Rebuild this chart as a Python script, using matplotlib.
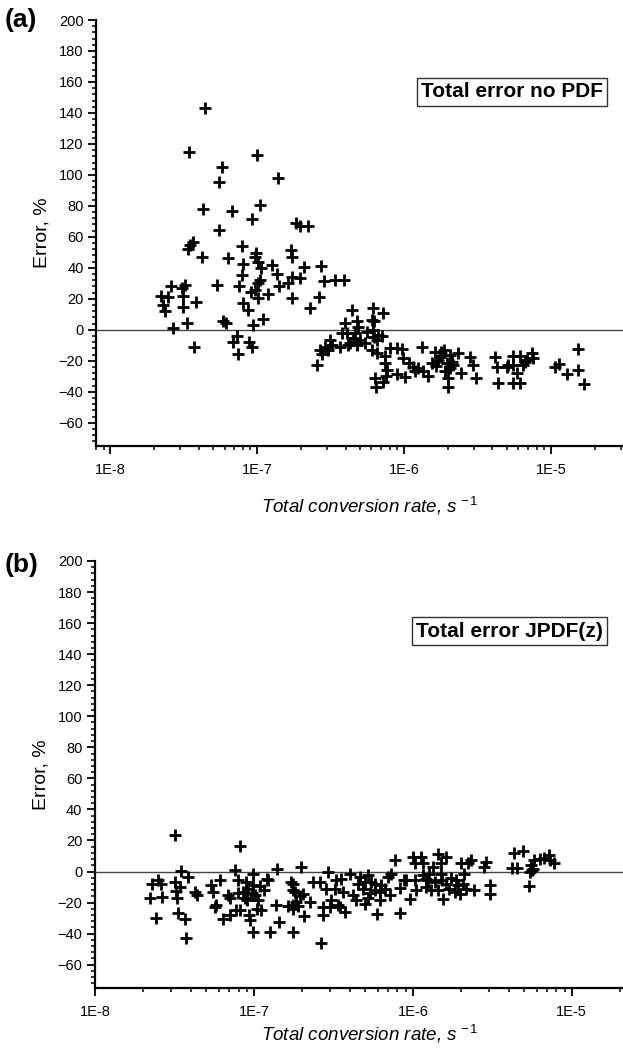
import matplotlib.pyplot as plt
from matplotlib.ticker import FixedLocator, LogLocator, MultipleLocator, NullFormatter

plt.rcParams["font.family"] = ["Liberation Sans", "DejaVu Sans"]
plt.rcParams["mathtext.fontset"] = "custom"
plt.rcParams["mathtext.rm"] = "Liberation Sans"
plt.rcParams["mathtext.it"] = "Liberation Sans:italic"

# (a) total error, no PDF
rate_a = [4.43e-8, 3.43e-8, 1.00e-7, 5.75e-8, 5.49e-8, 1.38e-7, 4.27e-8, 6.79e-8, 1.04e-7, 9.25e-8,
          5.49e-8, 1.83e-7, 1.96e-7, 2.23e-7, 3.65e-8, 3.50e-8, 3.36e-8, 4.20e-8, 6.38e-8, 7.91e-8,
          9.89e-8, 9.69e-8, 1.01e-7, 8.07e-8, 1.26e-7, 1.06e-7, 1.70e-7, 1.72e-7, 1.36e-7, 7.87e-8,
          1.04e-7, 1.01e-7, 1.40e-7, 1.19e-7, 1.63e-7, 1.72e-7, 1.74e-7, 5.32e-8, 7.55e-8, 9.06e-8,
          1.02e-7, 9.69e-8, 8.03e-8, 8.73e-8, 1.09e-7, 9.39e-8, 5.87e-8, 6.12e-8, 3.24e-8, 3.10e-8,
          2.60e-8, 2.22e-8, 2.47e-8, 2.30e-8, 2.37e-8, 3.15e-8, 3.15e-8, 3.83e-8, 3.32e-8, 2.67e-8,
          7.28e-8, 6.90e-8, 8.83e-8, 3.69e-8, 2.07e-7, 2.71e-7, 1.96e-7, 2.87e-7, 3.39e-7, 3.91e-7,
          2.64e-7, 2.29e-7, 9.20e-8, 4.41e-7, 6.12e-7, 7.16e-7, 3.97e-7, 4.77e-7, 6.25e-7, 4.07e-7,
          3.77e-7, 4.89e-7, 6.18e-7, 6.68e-7, 5.57e-7, 3.14e-7, 2.90e-7, 3.05e-7, 2.68e-7, 2.55e-7,
          2.75e-7, 3.22e-7, 3.67e-7, 4.18e-7, 4.77e-7, 5.43e-7, 4.52e-7, 6.25e-7, 7.05e-7, 6.03e-7,
          6.52e-7, 7.43e-7, 7.43e-7, 7.63e-7, 7.55e-7, 6.35e-7, 7.23e-7, 6.45e-7, 8.03e-7, 8.92e-7,
          9.65e-7, 1.32e-6, 9.89e-7, 1.09e-6, 1.16e-6, 1.25e-6, 1.35e-6, 1.19e-6, 8.92e-7, 1.02e-6,
          1.46e-6, 1.54e-6, 1.63e-6, 1.80e-6, 1.71e-6, 1.95e-6, 2.06e-6, 2.06e-6, 1.90e-6, 2.00e-6,
          2.00e-6, 2.34e-6, 2.43e-6, 2.81e-6, 2.96e-6, 3.09e-6, 2.16e-6, 4.16e-6, 4.27e-6, 4.38e-6,
          5.00e-6, 5.54e-6, 5.54e-6, 5.85e-6, 5.54e-6, 6.15e-6, 6.42e-6, 6.90e-6, 7.39e-6, 7.58e-6,
          5.13e-6, 1.06e-5, 1.14e-5, 1.28e-5, 1.53e-5, 1.53e-5, 1.69e-5, 1.76e-6, 1.87e-6, 2.12e-6,
          1.65e-6, 6.15e-6, 6.65e-6, 7.42e-8, 4.64e-7, 5.02e-7, 6.52e-7, 6.03e-7, 4.29e-7]
err_a = [143.1, 115.1, 112.8, 105.0, 95.7, 97.7, 78.3, 77.0, 80.5, 71.3,
         64.6, 68.7, 67.1, 67.1, 57.0, 54.9, 52.1, 46.7, 46.3, 54.4,
         49.9, 47.3, 43.9, 42.6, 42.0, 40.2, 51.6, 47.3, 36.2, 35.1,
         32.3, 30.1, 28.0, 23.2, 30.1, 34.4, 20.5, 29.2, 28.0, 24.7,
         20.5, 25.8, 17.2, 12.5, 6.9, 2.8, 6.0, 4.3, 29.1, 26.9,
         28.0, 22.1, 21.5, 16.1, 12.3, 22.1, 15.0, 18.1, 4.3, 1.1,
         -4.3, -7.6, -7.6, -10.8, 40.5, 40.9, 33.4, 31.8, 32.3, 32.3,
         20.9, 14.0, -10.8, 12.5, 13.8, 10.8, 4.7, 5.4, 5.4, -2.1,
         -2.1, 2.1, 0.0, -3.2, -1.1, -6.5, -10.8, -12.9, -12.9, -22.6,
         -15.5, -9.7, -10.8, -9.7, -9.7, -8.6, -5.4, -4.7, -3.9, -12.9,
         -15.0, -17.2, -21.5, -25.8, -29.7, -31.2, -33.4, -37.0, -11.8, -11.8,
         -12.5, -11.2, -18.3, -21.5, -23.7, -24.7, -26.9, -26.9, -28.4, -30.5,
         -30.1, -21.5, -14.0, -14.0, -19.4, -21.5, -16.1, -24.7, -26.9, -31.2,
         -36.6, -15.0, -27.6, -17.6, -22.6, -31.2, -22.6, -17.6, -23.7, -34.4,
         -23.7, -16.8, -22.6, -27.6, -34.4, -34.4, -22.6, -19.4, -14.7, -18.3,
         -22.6, -24.1, -21.9, -28.4, -12.5, -25.8, -35.1, -17.4, -12.9, -20.7,
         -23.2, -16.8, -20.7, -15.5, -2.1, -6.5, -6.5, 6.5, -8.6]

# (b) total error, JPDF(z)
rate_b = [3.17e-8, 8.13e-8, 3.46e-8, 3.85e-8, 2.49e-8, 2.30e-8, 2.62e-8, 3.17e-8, 3.41e-8, 3.22e-8,
          2.23e-8, 2.65e-8, 3.30e-8, 4.24e-8, 4.38e-8, 2.41e-8, 3.35e-8, 3.68e-8, 3.72e-8, 5.40e-8,
          5.52e-8, 6.15e-8, 5.66e-8, 5.80e-8, 6.86e-8, 7.11e-8, 6.38e-8, 7.03e-8, 7.75e-8, 7.56e-8,
          7.93e-8, 8.96e-8, 8.53e-8, 9.17e-8, 9.86e-8, 9.86e-8, 1.01e-7, 9.04e-8, 1.06e-7, 8.13e-8,
          9.31e-8, 1.04e-7, 1.11e-7, 9.40e-8, 9.86e-8, 1.22e-7, 1.40e-7, 1.27e-7, 1.43e-7, 1.37e-7,
          1.64e-7, 1.75e-7, 1.76e-7, 1.72e-7, 1.76e-7,
          1.99e-7, 1.76e-7, 1.80e-7, 2.03e-7, 1.85e-7, 2.24e-7, 1.76e-7, 2.08e-7, 2.35e-7, 2.59e-7,
          2.92e-7, 2.85e-7, 2.72e-7, 2.72e-7, 3.07e-7, 3.22e-7, 3.30e-7, 3.55e-7, 3.63e-7, 3.46e-7,
          3.72e-7, 4.00e-7, 4.20e-7, 4.41e-7, 4.62e-7, 4.85e-7, 4.97e-7, 5.21e-7, 5.47e-7, 5.94e-7,
          5.74e-7, 6.18e-7, 6.32e-7, 6.64e-7, 6.97e-7, 7.31e-7, 7.67e-7, 6.18e-7, 8.25e-7, 7.14e-7,
          9.08e-7, 1.03e-6, 9.53e-7, 1.05e-6, 1.00e-6, 1.13e-6, 1.03e-6, 1.16e-6, 1.21e-6, 1.27e-6,
          1.34e-6, 1.44e-6, 1.62e-6, 1.51e-6, 1.51e-6, 1.24e-6, 1.37e-6, 1.21e-6, 1.16e-6, 1.62e-6,
          1.70e-6, 1.83e-6, 1.97e-6, 2.01e-6, 2.11e-6, 2.06e-6, 1.87e-6, 2.22e-6, 2.33e-6, 2.17e-6,
          1.55e-6, 2.44e-6, 2.90e-6, 2.82e-6, 3.04e-6, 3.04e-6,
          4.36e-6, 4.92e-6, 4.22e-6, 4.51e-6, 5.37e-6, 5.64e-6, 5.56e-6, 5.82e-6, 6.27e-6, 6.73e-6,
          7.16e-6, 7.31e-6, 7.78e-6, 5.74e-6, 5.42e-6,
          2.65e-7, 3.38e-7, 2.99e-7, 1.21e-7, 1.15e-7, 1.09e-7, 4.97e-7, 5.34e-7, 4.49e-7, 5.82e-7,
          5.19e-7, 7.89e-8, 8.74e-8, 9.68e-8, 1.94e-7, 1.88e-7, 1.31e-6, 1.43e-6, 1.52e-6, 1.75e-6,
          1.91e-6, 8.25e-7, 8.75e-7]
err_b = [23.4, 16.3, 0.4, -3.5, -5.2, -7.7, -7.7, -6.7, -9.9, -12.5,
         -16.8, -16.4, -16.8, -13.2, -15.3, -29.7, -26.7, -30.3, -42.8, -8.8,
         -13.2, -5.2, -22.8, -21.7, -15.3, -16.8, -30.3, -28.2, -24.5, 0.8,
         -5.6, -6.7, -13.2, -11.0, -1.3, -8.8, -15.3, -18.5, -18.5, -24.5,
         -28.2, -23.9, -25.0, -31.0, -39.0, -5.6, 1.9, -39.0, -32.5, -21.7,
         -22.4, -39.0, -21.7, -6.7, -12.1,
         3.0, -7.7, -13.2, -14.2, -19.6, -19.6, -23.9, -28.8, -6.7, -6.7,
         -0.3, -11.0, -22.8, -28.2, -18.5, -11.0, -5.6, -4.5, -13.2, -22.8,
         -26.1, -1.3, -15.3, -18.5, -3.5, -11.0, -20.6, -2.4, -6.7, -27.1,
         -12.1, -13.2, -8.8, -11.0, -3.5, -1.3, 7.3, -18.5, -26.7, -15.3,
         -5.6, -5.6, -17.4, -12.1, 9.4, 9.4, 5.2, 5.2, -4.5, -1.3,
         3.0, 11.6, 9.4, 5.2, -1.3, -5.6, -6.7, -9.9, -2.4, -7.7,
         -11.0, -13.2, -14.2, 5.2, -1.3, -7.7, -5.6, 5.2, 7.3, -11.0,
         -17.4, -12.1, 6.2, 3.0, -8.8, -14.2,
         12.0, 13.3, 2.6, 2.6, -9.5, 0.8, 4.1, 7.3, 8.4, 9.0,
         10.5, 7.7, 5.2, 1.9, -0.3,
         -45.8, -21.7, -22.8, -5.0, -12.1, -9.5, -6.9, -14.0, -8.2, -8.2,
         -17.2, -14.0, -17.2, -14.0, -15.9, -22.4, -12.1, -12.1, -5.6, -4.3,
         -8.8, -10.8, -5.6]

xticks = [1e-8, 1e-7, 1e-6, 1e-5]
xticklabels = ["1E-8", "1E-7", "1E-6", "1E-5"]
yticks = list(range(-60, 201, 20))

W, H = 623, 1052
fig = plt.figure(figsize=(W / 100, H / 100), dpi=100)
fig.patch.set_facecolor("white")

ax_a = fig.add_axes([96 / W, 1 - 446 / H, 527 / W, 426 / H])
ax_b = fig.add_axes([95 / W, 1 - 988 / H, 528 / W, 427 / H])


def style(ax, rate, err, xlim, panel, box_text, top_px, box_y, xlab_pad):
    ax.plot(rate, err, ls="none", marker="+", ms=8.5, mew=2.0, color="black", zorder=3)
    ax.axhline(0, color="#444444", lw=1.0, zorder=1)
    ax.set_xscale("log")
    ax.set_xlim(*xlim)
    ax.set_ylim(-75, 200)

    ax.xaxis.set_major_locator(FixedLocator(xticks))
    ax.set_xticklabels(xticklabels)
    ax.xaxis.set_minor_locator(LogLocator(base=10, subs=range(2, 10), numticks=20))
    ax.xaxis.set_minor_formatter(NullFormatter())
    ax.yaxis.set_major_locator(FixedLocator(yticks))
    ax.yaxis.set_minor_locator(MultipleLocator(4))

    for side in ["top", "right"]:
        ax.spines[side].set_visible(False)
    for side in ["left", "bottom"]:
        ax.spines[side].set_linewidth(1.6)
        ax.spines[side].set_color("black")
    ax.tick_params(which="major", direction="out", length=6, width=1.3, labelsize=10.5, pad=3)
    ax.tick_params(which="minor", direction="out", length=3, width=1.1)
    ax.tick_params(axis="x", which="major", pad=6)

    ax.text(0.962, box_y, box_text, transform=ax.transAxes, ha="right", va="center",
            fontsize=15, fontweight="bold",
            bbox=dict(boxstyle="square,pad=0.2", fc="white", ec="#333333", lw=1.0))

    fig.text(5 / W, 1 - top_px / H, panel, fontsize=19, fontweight="bold", va="center", ha="left")
    ax.set_ylabel("Error, %", fontsize=14, labelpad=6)
    ax.set_xlabel("Total conversion rate, s$^{\\,-1}$", fontsize=13.5, style="italic",
                  labelpad=xlab_pad)
    ax.xaxis.label.set_x(0.52)


style(ax_a, rate_a, err_a, (8.0e-9, 3.1e-5), "(a)", "Total error no PDF", 20, 0.831, 13)
style(ax_b, rate_b, err_b, (1.0e-8, 2.1e-5), "(b)", "Total error JPDF(z)", 565, 0.836, 3)

plt.savefig("out.png", dpi=100)
